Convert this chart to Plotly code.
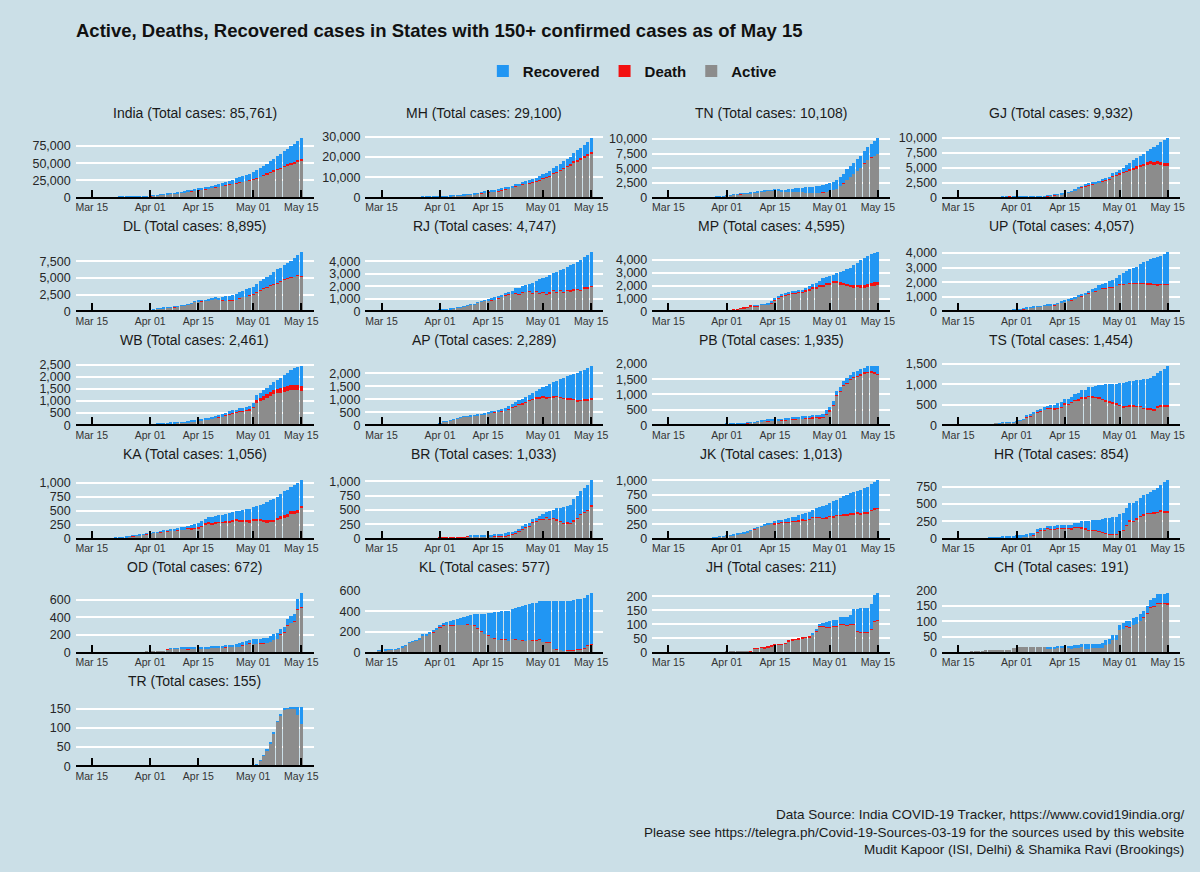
import plotly.graph_objects as go
import pandas as pd

# ---------------- data ----------------
DATES = pd.date_range("2020-03-14", "2020-05-15", freq="D")   # 63 daily categories
TICK_DATES = ["2020-03-15", "2020-04-01", "2020-04-15", "2020-05-01", "2020-05-15"]
TICK_TEXT = ["Mar 15", "Apr 01", "Apr 15", "May 01", "May 15"]

STATES = ["India", "MH", "TN", "GJ", "DL", "RJ", "MP", "UP", "WB", "AP", "PB",
          "TS", "KA", "BR", "JK", "HR", "OD", "KL", "JH", "CH", "TR"]

# cumulative confirmed (C), recovered (R), deceased (D): Mar 14 .. May 15
IN_C = [102,112,126,146,171,194,249,332,396,499,536,657,727,887,987,1071,1251,1635] + \
       [2059,2545,3105,3666,4289,4778,5351,5916,6725,7600,8446,9205,10453,11487,12322,13430,14352,15722,17615,18539,
        20080,21370,23077,24530,26283,27890,29451,31324,33062,34863] + \
       [37257,39699,42505,46437,49400,53005,56351,59695,62808,67161,70768,74292,78055,81997,85761]
IN_R = [10,13,14,14,15,20,23,23,27,40,43,43,45,73,84,95,102,148] + \
       [169,191,229,275,328,375,421,506,620,774,969,1080,1191,1359,1510,1767,2015,2463,2854,3273,
        3975,4370,4814,5210,5939,6523,7137,7796,8437,9068] + \
       [10007,10887,11762,12847,14183,15331,16776,17887,19301,20969,22549,24420,26400,27969,30258]
IN_D = [2,2,2,3,3,4,4,4,7,10,10,12,16,20,24,27,32,41] + \
       [58,72,86,100,118,137,162,181,214,243,273,326,359,393,420,448,486,521,560,603,
        652,686,723,780,826,881,938,1008,1079,1154] + \
       [1223,1323,1391,1566,1694,1783,1886,1981,2109,2212,2294,2415,2551,2649,2752]

MH_C = [19,32,39,41,45,48,52,64,74,97,107,122,130,153,186,203,220,302] + \
       [335,423,490,635,748,868,1018,1135,1364,1574,1761,1982,2334,2687,2916,3202,3323,3648,4203,4666,
        5218,5652,6430,6817,7628,8068,8590,9318,9915,10498] + \
       [11506,12296,12974,14541,15525,16758,17974,19063,20228,22171,23401,24427,25922,27524,29100]
MH_R = [0,0,0,0,0,0,0,0,0,0,0,0,1,14,25,35,39,39] + \
       [39,42,42,42,56,56,66,117,125,188,188,208,229,259,295,295,331,365,507,572,
        722,789,840,957,1076,1188,1388,1593,1593,1773] + \
       [1879,2115,2115,2465,2819,3094,3301,3470,3800,4199,4786,5125,5547,6059,6564]
MH_D = [0,0,0,1,1,1,1,2,2,3,3,3,4,5,6,7,8,10] + \
       [13,19,24,32,45,53,64,72,97,110,127,149,160,178,187,194,201,211,223,232,
        251,269,283,301,323,342,369,400,432,459] + \
       [485,521,548,583,617,651,694,731,779,832,868,921,975,1019,1068]

TN_C = [1,1,1,1,2,3,3,3,7,9,15,18,26,29,40,50,67,124] + \
       [234,309,411,485,571,621,690,738,834,911,969,1075,1173,1204,1242,1267,1323,1372,1477,1520,
        1596,1629,1683,1755,1821,1885,1937,2058,2162,2323] + \
       [2526,2757,3023,3550,4058,4829,5409,6009,6535,7204,8002,8718,9227,9674,10108]
TN_R = [0,0,0,0,0,0,0,0,1,1,1,1,1,1,1,2,2,4] + \
       [6,6,6,6,8,8,19,21,21,44,50,50,58,81,118,180,283,365,411,457,
        635,662,752,866,960,1020,1101,1210,1258,1258] + \
       [1379,1408,1485,1547,1605,1716,1824,1879,1959,2051,2134,2240,2357,2476,2599]
TN_D = [0,0,0,0,0,0,0,0,0,0,0,1,1,1,1,1,1,1] + \
       [2,3,5,6,6,7,7,8,8,10,11,11,12,12,14,15,15,15,15,17,
        18,18,20,21,23,24,25,27,27,27] + \
       [28,29,30,31,32,35,35,40,44,47,53,56,64,66,71]

GJ_C = [0,0,0,0,0,2,5,7,14,29,33,38,43,45,53,63,69,73] + \
       [82,87,95,105,128,144,165,179,186,241,378,432,516,572,695,871,1021,1272,1604,1851,
        2066,2272,2407,2624,2815,3071,3301,3548,4082,4395] + \
       [4721,5054,5428,5804,6245,6625,7012,7403,7796,8195,8541,8904,9268,9592,9932]
GJ_R = [0,0,0,0,0,0,0,0,0,0,0,0,0,0,1,1,1,1] + \
       [5,8,8,10,12,12,25,26,26,26,33,44,54,56,64,64,74,88,95,106,
        131,179,179,258,258,282,313,394,434,613] + \
       [613,735,896,1042,1219,1381,1500,1709,1872,2091,2545,2780,3246,3753,4035]
GJ_D = [0,0,0,0,0,0,0,0,1,1,1,2,3,3,4,5,6,6] + \
       [6,7,9,10,11,12,13,16,16,19,22,22,25,26,30,36,38,41,58,67,
        71,90,103,112,127,133,151,162,181,197] + \
       [214,236,262,290,319,368,396,425,449,472,493,513,537,566,606]

DL_C = [7,7,7,8,10,12,17,26,29,30,30,31,36,39,39,49,72,120] + \
       [152,219,386,445,503,523,576,669,720,898,903,1069,1154,1510,1561,1578,1640,1707,1893,2003,
        2081,2156,2248,2376,2514,2625,2918,3108,3314,3515] + \
       [3738,4122,4549,4898,5104,5532,5980,6318,6542,6923,7233,7639,7998,8470,8895]
DL_R = [0,2,2,2,2,2,3,5,6,6,6,6,6,6,6,6,6,6] + \
       [6,6,8,15,16,16,19,21,25,25,25,27,27,30,30,30,38,42,72,72,
        290,431,611,724,808,857,877,877,1078,1094] + \
       [1167,1256,1362,1431,1468,1542,1931,2020,2020,2129,2187,2512,2758,3045,3518]
DL_D = [1,1,1,1,1,1,1,1,1,1,1,1,1,1,2,2,2,2] + \
       [2,4,5,6,7,9,9,11,12,13,14,19,24,28,30,32,38,42,43,45,
        47,48,50,53,54,56,56,59,59,59] + \
       [61,64,64,64,64,65,66,66,68,73,73,86,86,115,123]

RJ_C = [2,4,4,4,7,7,17,18,25,32,33,36,38,43,54,60,79,93] + \
       [120,133,167,200,253,288,325,383,463,561,579,700,804,873,1005,1076,1131,1229,1351,1478,
        1576,1659,1868,1888,2034,2083,2185,2262,2438,2584] + \
       [2666,2772,2886,3061,3158,3317,3427,3579,3708,3814,3988,4126,4328,4534,4747]
RJ_R = [0,1,1,1,3,3,3,3,3,3,3,3,3,3,3,3,3,3] + \
       [3,3,21,21,21,21,21,21,21,21,25,25,25,25,147,164,183,183,183,183,
        205,230,419,493,493,493,552,814,814,1116] + \
       [1116,1356,1356,1356,1596,1596,1855,1855,2011,2011,2176,2389,2389,2580,2676]
RJ_D = [0,0,0,0,0,0,0,0,0,0,0,0,0,0,0,0,0,0] + \
       [0,0,1,1,1,1,3,3,3,3,3,3,3,3,11,14,16,17,19,25,
        25,25,27,31,33,33,41,46,51,58] + \
       [61,65,71,77,82,89,92,97,103,107,107,113,117,121,125]

MP_C = [0,0,0,0,0,0,4,4,6,6,7,14,15,20,30,33,47,66] + \
       [98,99,104,165,193,256,290,411,435,435,532,562,604,730,987,1120,1310,1407,1485,1552,
        1587,1695,1699,1846,1945,2096,2168,2387,2561,2660] + \
       [2719,2846,2942,3049,3138,3252,3341,3614,3785,3986,4173,4295,4426,4525,4595]
MP_R = [0,0,0,0,0,0,0,0,0,0,0,0,0,0,0,0,0,0] + \
       [0,0,0,0,0,0,0,0,7,7,7,7,44,53,64,64,69,127,127,127,
        131,148,150,203,210,210,302,313,482,482] + \
       [482,482,590,798,950,1100,1280,1550,1700,1950,2130,2200,2250,2280,2300]
MP_D = [0,0,0,0,0,0,0,0,0,0,0,1,1,1,1,2,3,4] + \
       [6,6,6,9,12,16,21,28,33,33,36,40,43,50,53,55,63,70,72,76,
        80,80,83,88,99,106,113,120,130,137] + \
       [145,151,156,165,165,185,193,215,221,225,232,232,237,243,248]

UP_C = [12,13,13,15,16,18,23,27,27,33,35,38,41,42,65,72,82,103] + \
       [113,116,173,227,276,308,332,361,410,431,452,483,558,660,735,805,846,974,1084,1176,
        1294,1412,1510,1604,1778,1868,1955,2053,2134,2281] + \
       [2487,2626,2766,2880,2998,3071,3214,3373,3467,3573,3664,3729,3824,3902,4057]
UP_R = [0,4,4,5,5,6,9,9,10,11,11,11,11,11,11,11,14,14] + \
       [17,17,17,17,17,17,21,21,21,31,45,49,49,49,50,68,74,80,90,140,
        140,164,164,206,289,289,373,409,479,510] + \
       [640,760,855,940,1040,1130,1250,1420,1530,1640,1760,1850,1930,2000,2160]
UP_D = [0,0,0,0,0,0,0,0,0,0,0,0,0,0,0,0,0,0] + \
       [2,2,2,2,3,3,3,4,4,4,4,5,5,5,11,13,14,14,14,18,
        20,21,24,25,27,29,31,31,34,39] + \
       [41,43,45,50,56,60,62,66,74,77,80,82,85,88,95]

WB_C = [0,0,0,1,1,2,3,4,7,7,9,9,10,10,15,18,22,37] + \
       [53,53,63,69,80,91,99,103,116,116,134,152,190,213,231,255,287,310,339,392,
        423,456,514,571,611,649,697,725,758,795] + \
       [922,1259,1344,1456,1548,1678,1786,1880,1939,2063,2173,2290,2377,2420,2461]
WB_R = [0,0,0,0,0,0,0,0,0,0,0,0,0,0,0,0,0,0] + \
       [3,3,3,3,3,10,10,13,16,16,19,29,36,37,42,51,55,62,66,73,
        79,79,103,103,105,109,109,119,124,139] + \
       [151,218,218,265,265,293,339,364,416,499,556,633,693,767,829]
WB_D = [0,0,0,0,0,0,0,0,0,1,1,1,1,1,1,2,3,3] + \
       [3,3,3,3,5,5,5,5,5,5,5,7,7,7,7,10,10,10,12,12,
        12,15,15,18,18,18,18,20,22,33] + \
       [33,133,140,144,151,160,171,185,190,198,200,207,207,210,215]

AP_C = [1,1,1,1,1,2,3,3,5,7,8,10,11,13,19,21,23,44] + \
       [87,132,161,190,226,266,303,329,348,363,381,405,420,439,483,525,534,572,603,647,
        722,813,895,955,1016,1097,1177,1259,1332,1403] + \
       [1463,1525,1583,1650,1717,1777,1833,1887,1930,1980,2018,2090,2137,2205,2289]
AP_R = [0,0,0,0,0,0,0,0,0,0,0,1,1,1,1,1,1,1] + \
       [1,1,1,1,1,1,1,1,6,6,9,9,12,14,16,16,20,35,42,65,
        92,120,141,145,171,191,201,231,258,321] + \
       [341,441,488,524,589,674,780,842,888,958,1056,1107,1142,1192,1252]
AP_D = [0,0,0,0,0,0,0,0,0,0,0,0,0,0,0,0,0,0] + \
       [1,1,2,3,3,3,3,4,4,6,6,6,7,9,9,14,14,14,15,17,
        20,22,24,27,27,29,31,31,31,31] + \
       [33,34,36,36,36,36,38,41,41,44,45,46,46,48,50]

PB_C = [0,1,1,1,1,1,1,1,3,21,21,29,33,33,38,38,38,41] + \
       [46,46,47,48,57,65,79,99,106,132,151,167,176,184,186,187,202,211,219,244,
        251,277,283,298,313,322,330,342,357,480] + \
       [585,772,1102,1232,1451,1526,1644,1731,1762,1823,1877,1914,1924,1932,1935]
PB_R = [0,0,0,0,0,0,0,0,0,0,0,0,0,1,1,1,1,1] + \
       [1,1,1,1,4,4,4,4,4,14,14,14,25,27,27,27,29,30,31,38,
        40,42,49,52,71,71,72,90,98,104] + \
       [104,112,116,117,128,135,139,147,149,153,156,168,171,202,260]
PB_D = [0,0,0,0,0,1,1,1,1,1,1,1,1,1,1,1,1,3] + \
       [4,4,5,5,6,6,7,8,8,11,11,12,12,13,13,13,14,14,15,16,
        16,16,17,17,17,18,19,19,20,20] + \
       [20,21,21,21,23,25,27,28,31,31,32,32,32,32,32]

TS_C = [1,3,4,5,6,13,16,21,22,32,35,39,44,45,59,67,70,77] + \
       [97,127,154,229,269,321,364,404,442,473,487,504,531,562,644,650,700,766,791,858,
        872,928,943,970,984,990,1001,1004,1009,1016] + \
       [1039,1044,1061,1082,1085,1096,1107,1122,1132,1163,1196,1275,1326,1367,1454]
TS_R = [0,0,0,0,0,0,0,0,0,0,0,0,0,1,1,1,1,1] + \
       [1,14,14,17,32,32,35,45,45,45,68,96,103,110,110,120,128,150,160,170,
        190,210,240,270,300,340,380,410,442,474] + \
       [533,568,582,585,585,618,628,693,712,751,794,800,822,868,959]
TS_D = [0,0,0,0,0,0,0,0,0,0,0,0,0,0,1,1,1,1] + \
       [3,7,9,11,11,11,11,11,12,12,12,14,16,18,18,18,18,18,18,21,
        23,23,25,25,26,26,26,26,26,26] + \
       [28,29,29,29,29,29,29,29,29,30,30,30,32,34,34]

KA_C = [6,7,10,11,11,14,15,20,26,33,37,41,55,64,76,81,88,101] + \
       [110,124,128,144,151,163,175,181,197,207,215,232,247,258,279,315,359,384,390,408,
        418,427,445,463,474,500,503,512,523,535] + \
       [565,589,601,614,651,692,705,753,794,848,862,925,959,987,1056]
KA_R = [0,0,0,0,0,0,1,1,2,2,3,3,3,3,5,5,5,5] + \
       [9,9,9,11,12,13,20,25,30,30,34,42,59,65,71,80,85,92,111,112,
        112,119,129,141,146,152,163,179,184,207] + \
       [216,235,250,271,324,349,366,376,386,422,426,432,460,470,480]
KA_D = [1,1,1,1,1,1,1,1,1,1,2,2,3,3,3,3,3,3] + \
       [3,3,3,4,4,4,5,5,5,6,6,6,6,6,10,12,13,13,14,16,
        16,17,17,17,18,19,19,20,21,21] + \
       [22,22,25,25,26,27,29,30,30,31,31,31,33,35,36]

BR_C = [0,0,0,0,0,0,0,1,2,2,3,4,6,7,9,11,15,21] + \
       [23,29,30,32,32,32,36,38,51,58,60,64,65,66,70,74,80,83,85,93,
        113,126,143,176,223,251,277,346,366,403] + \
       [426,466,481,503,529,542,550,571,584,696,747,831,879,938,1033]
BR_R = [0,0,0,0,0,0,0,0,0,0,0,0,0,0,0,0,0,0] + \
       [0,0,0,0,0,0,0,0,0,13,15,15,15,15,29,29,37,37,42,42,
        42,42,46,46,46,48,53,53,56,64] + \
       [78,84,136,146,192,235,271,284,310,373,383,402,412,432,450]
BR_D = [0,0,0,0,0,0,0,0,1,1,1,1,1,1,1,1,1,1] + \
       [1,1,1,1,1,1,1,1,1,1,1,1,1,1,1,1,1,1,2,2,
        2,2,2,2,2,2,2,2,2,2] + \
       [2,2,3,3,4,4,5,5,6,6,6,6,6,7,7]

JK_C = [0,2,2,3,3,4,4,4,4,4,7,11,13,18,33,38,48,55] + \
       [62,70,75,92,106,109,125,158,184,207,224,245,270,278,300,314,328,341,350,368,
        380,407,427,434,454,494,523,546,565,581] + \
       [614,639,666,701,726,741,775,793,823,836,861,879,934,971,1013]
JK_R = [0,0,0,0,0,0,0,0,1,1,1,1,1,1,1,1,2,2] + \
       [2,2,3,3,4,4,4,4,6,6,6,6,11,11,36,38,42,53,56,56,
        72,92,92,108,116,116,152,173,203,216] + \
       [216,254,254,286,305,323,336,360,368,403,403,427,436,446,480]
JK_D = [0,0,0,0,0,0,0,0,0,0,0,1,1,1,1,2,2,2] + \
       [2,2,2,2,2,2,3,4,4,4,4,4,4,4,4,4,5,5,5,5,
        5,5,6,6,6,6,6,7,7,7] + \
       [8,8,8,8,8,8,9,9,9,9,10,10,10,11,11]

HR_C = [3,5,6,6,6,6,6,6,6,6,28,28,30,32,33,35,36,43] + \
       [48,56,61,65,82,90,135,155,161,180,185,185,198,199,205,205,205,223,233,251,
        254,254,264,270,275,289,296,296,311,313] + \
       [360,376,442,517,517,548,594,625,647,675,703,730,780,818,854]
HR_R = [0,0,0,0,0,0,0,0,0,0,11,11,11,14,14,17,17,17] + \
       [21,24,24,24,24,29,30,30,30,30,37,37,41,43,43,46,56,57,63,87,
        105,123,134,147,166,189,207,221,235,242] + \
       [245,245,246,250,254,255,263,269,270,300,315,340,370,420,460]
HR_D = [0,0,0,0,0,0,0,0,0,0,0,0,0,0,0,0,0,0] + \
       [1,1,1,1,1,1,1,1,2,2,2,2,3,3,3,3,3,3,3,3,
        3,3,3,3,3,3,3,3,3,3] + \
       [4,4,4,5,6,6,6,7,9,9,10,11,11,11,11]

OD_C = [0,0,0,0,1,2,2,2,2,2,2,2,2,3,3,3,3,4] + \
       [5,5,20,20,21,32,42,42,44,50,50,50,54,60,60,60,60,61,68,72,
        74,79,83,89,90,94,103,118,125,143] + \
       [149,154,157,162,169,185,205,219,271,294,377,414,437,611,672]
OD_R = [0,0,0,0,0,0,0,0,0,0,0,0,0,0,0,0,0,0] + \
       [0,0,0,0,0,0,2,2,2,2,11,12,12,18,18,18,18,18,18,19,
        24,24,24,25,29,33,37,37,39,39] + \
       [48,55,55,60,61,62,63,63,64,65,70,77,80,120,160]
OD_D = [0,0,0,0,0,0,0,0,0,0,0,0,0,0,0,0,0,0] + \
       [0,0,0,0,0,1,1,1,1,1,1,1,1,1,1,1,1,1,1,1,
        1,1,1,1,1,1,1,1,1,1] + \
       [1,1,1,1,1,1,1,2,2,2,2,2,3,3,3]

KL_C = [19,22,24,26,27,28,40,52,67,95,109,118,137,176,182,202,215,241] + \
       [265,286,295,306,314,327,336,345,357,364,373,375,378,379,387,388,395,396,399,402,
        408,426,437,447,450,458,468,481,485,497] + \
       [497,499,499,500,502,503,503,505,505,512,519,524,534,560,577]
KL_R = [3,3,3,3,3,3,3,3,3,4,4,4,10,11,16,16,16,19] + \
       [19,21,26,41,49,57,65,75,84,96,110,140,169,198,218,245,255,270,270,270,
        292,292,310,323,331,342,342,359,365,369] + \
       [392,401,401,462,469,474,484,484,485,489,489,490,491,491,497]
KL_D = [0,0,0,0,0,0,0,0,0,0,0,0,0,0,1,1,2,2] + \
       [2,2,2,2,2,2,2,2,2,2,3,3,3,3,3,3,3,3,3,3,
        3,3,3,3,3,3,3,3,4,4] + \
       [4,4,4,4,4,4,4,4,4,4,4,4,4,4,4]

JH_C = [0,0,0,0,0,0,0,0,0,0,0,0,0,0,0,0,0,1] + \
       [2,2,3,3,3,3,4,4,13,13,17,17,19,24,27,28,29,33,41,45,
        46,49,53,54,56,67,82,103,105,107] + \
       [113,115,115,125,125,127,132,156,156,157,159,160,173,203,211]
JH_R = [0,0,0,0,0,0,0,0,0,0,0,0,0,0,0,0,0,0] + \
       [0,0,0,0,0,0,0,0,0,0,0,0,0,0,0,0,0,0,0,0,
        0,0,0,0,0,2,5,8,11,17] + \
       [21,21,21,24,24,29,29,55,80,85,87,88,90,90,94]
JH_D = [0,0,0,0,0,0,0,0,0,0,0,0,0,0,0,0,0,0] + \
       [0,0,0,0,0,0,0,1,1,1,1,2,2,2,2,2,2,2,2,2,
        2,3,3,3,3,3,3,3,3,3] + \
       [3,3,3,3,3,3,3,3,3,3,3,3,3,3,3]

CH_C = [0,0,0,0,0,1,1,5,5,7,7,7,7,8,8,8,8,15] + \
       [16,18,18,18,18,18,18,18,18,19,19,19,21,21,21,21,21,23,23,26,
        26,26,27,27,28,30,40,45,56,56] + \
       [88,94,102,102,111,114,124,135,150,169,174,187,187,189,191]
CH_R = [0,0,0,0,0,0,0,0,0,0,0,0,0,0,0,0,0,0] + \
       [0,0,0,0,0,0,0,0,0,7,7,7,7,7,7,7,9,9,9,9,
        14,14,14,14,15,15,17,17,17,17] + \
       [17,17,17,21,21,21,21,21,24,24,25,28,28,29,33]
CH_D = [0,0,0,0,0,0,0,0,0,0,0,0,0,0,0,0,0,0] + \
       [0,0,0,0,0,0,0,0,0,0,0,0,0,0,0,0,0,0,0,0,
        0,0,0,0,0,0,0,0,0,0] + \
       [0,0,1,1,1,1,1,1,2,2,2,2,3,3,3]

TR_C = [0,0,0,0,0,0,0,0,0,0,0,0,0,0,0,0,0,0] + \
       [0,0,0,0,1,1,1,1,1,1,1,1,1,1,2,2,2,2,2,2,
        2,2,2,2,2,2,2,2,2,2] + \
       [2,4,16,29,43,62,88,118,135,150,152,153,154,155,155]
TR_R = [0,0,0,0,0,0,0,0,0,0,0,0,0,0,0,0,0,0] + \
       [0,0,0,0,0,0,0,0,0,0,0,0,0,0,1,1,1,1,2,2,
        2,2,2,2,2,2,2,2,2,2] + \
       [2,2,2,2,2,2,2,2,2,2,2,2,2,20,45]
TR_D = [0,0,0,0,0,0,0,0,0,0,0,0,0,0,0,0,0,0] + \
       [0,0,0,0,0,0,0,0,0,0,0,0,0,0,0,0,0,0,0,0,
        0,0,0,0,0,0,0,0,0,0] + \
       [0,0,0,0,0,0,0,0,0,0,0,0,0,0,0]

# y tick values per panel
IN_T = [0, 25000, 50000, 75000]
MH_T = [0, 10000, 20000, 30000]
TN_T = [0, 2500, 5000, 7500, 10000]
GJ_T = [0, 2500, 5000, 7500, 10000]
DL_T = [0, 2500, 5000, 7500]
RJ_T = [0, 1000, 2000, 3000, 4000]
MP_T = [0, 1000, 2000, 3000, 4000]
UP_T = [0, 1000, 2000, 3000, 4000]
WB_T = [0, 500, 1000, 1500, 2000, 2500]
AP_T = [0, 500, 1000, 1500, 2000]
PB_T = [0, 500, 1000, 1500, 2000]
TS_T = [0, 500, 1000, 1500]
KA_T = [0, 250, 500, 750, 1000]
BR_T = [0, 250, 500, 750, 1000]
JK_T = [0, 250, 500, 750, 1000]
HR_T = [0, 250, 500, 750]
OD_T = [0, 200, 400, 600]
KL_T = [0, 200, 400, 600]
JH_T = [0, 50, 100, 150, 200]
CH_T = [0, 50, 100, 150, 200]
TR_T = [0, 50, 100, 150]

DATA = {
    "India": (IN_C, IN_R, IN_D, IN_T), "MH": (MH_C, MH_R, MH_D, MH_T),
    "TN": (TN_C, TN_R, TN_D, TN_T), "GJ": (GJ_C, GJ_R, GJ_D, GJ_T),
    "DL": (DL_C, DL_R, DL_D, DL_T), "RJ": (RJ_C, RJ_R, RJ_D, RJ_T),
    "MP": (MP_C, MP_R, MP_D, MP_T), "UP": (UP_C, UP_R, UP_D, UP_T),
    "WB": (WB_C, WB_R, WB_D, WB_T), "AP": (AP_C, AP_R, AP_D, AP_T),
    "PB": (PB_C, PB_R, PB_D, PB_T), "TS": (TS_C, TS_R, TS_D, TS_T),
    "KA": (KA_C, KA_R, KA_D, KA_T), "BR": (BR_C, BR_R, BR_D, BR_T),
    "JK": (JK_C, JK_R, JK_D, JK_T), "HR": (HR_C, HR_R, HR_D, HR_T),
    "OD": (OD_C, OD_R, OD_D, OD_T), "KL": (KL_C, KL_R, KL_D, KL_T),
    "JH": (JH_C, JH_R, JH_D, JH_T), "CH": (CH_C, CH_R, CH_D, CH_T),
    "TR": (TR_C, TR_R, TR_D, TR_T),
}

# ---------------- style / layout ----------------
BG = "#CBDFE7"
COL_ACTIVE = "#8C8C8C"
COL_DEATH = "#F21010"
COL_REC = "#2196F3"
FONT = "Liberation Sans, Arial, sans-serif"
W, H = 1200, 872
COL_X = [76, 367, 655, 946]
PW = 239
ROW_TOP, ROW_STEP, PH = 131, 115, 66
XRANGE = ["2020-03-10 07:12:00", "2020-05-18 14:24:00"]

fig = go.Figure()
annotations = []

for k, st in enumerate(STATES):
    C, R, D, ticks = DATA[st]
    assert len(C) == len(R) == len(D) == len(DATES), st
    active = [c - r - d for c, r, d in zip(C, R, D)]
    row, col = divmod(k, 4)
    sfx = "" if k == 0 else str(k + 1)
    left = COL_X[col]
    top = ROW_TOP + row * ROW_STEP
    bot = top + PH
    x0, x1 = left / W, (left + PW) / W
    y0, y1 = 1 - bot / H, 1 - top / H
    ymax = max(C)
    zero_pos = y0 + (0.05 / 1.10) * (y1 - y0)

    for name, vals, color in [("Active", active, COL_ACTIVE),
                              ("Death", D, COL_DEATH),
                              ("Recovered", R, COL_REC)]:
        fig.add_trace(go.Bar(
            x=DATES, y=vals, name="<b>%s</b>" % name,
            marker=dict(color=color, line=dict(width=0)),
            xaxis="x" + sfx, yaxis="y" + sfx,
            showlegend=(k == 0), hoverinfo="x+y+name",
        ))

    fig.layout["xaxis" + sfx] = dict(
        domain=[x0, x1], anchor="free", position=zero_pos, type="date",
        range=XRANGE, tickvals=TICK_DATES, ticktext=TICK_TEXT,
        tickfont=dict(size=10.5, color="#333333", family=FONT),
        showgrid=False, zeroline=False, showline=True, linecolor="black",
        linewidth=2, ticks="inside", ticklen=7, tickwidth=2, tickcolor="black",
    )
    fig.layout["yaxis" + sfx] = dict(
        domain=[y0, y1], anchor="free", position=x0,
        range=[-0.05 * ymax, 1.05 * ymax], tickvals=ticks, tickformat=",",
        tickfont=dict(size=12.5, color="#262626", family=FONT),
        showgrid=True, gridcolor="white", gridwidth=2, zeroline=False,
        showline=False, ticks="", ticklabelstandoff=5,
    )
    annotations.append(dict(
        text="%s (Total cases: %s)" % (st, format(C[-1], ",")),
        x=(left + PW / 2) / W, y=1 - (top - 23) / H, xref="paper", yref="paper",
        xanchor="center", yanchor="middle", showarrow=False,
        font=dict(size=14, color="#1a1a1a", family=FONT),
    ))

annotations.append(dict(
    text="<b>Active, Deaths, Recovered cases in States with 150+ confirmed cases as of May 15</b>",
    x=74 / W, y=1 - 25 / H, xref="paper", yref="paper", xanchor="left", yanchor="middle",
    showarrow=False, font=dict(size=18.5, color="#111111", family=FONT),
))
annotations.append(dict(
    text="Data Source: India COVID-19 Tracker, https://www.covid19india.org/<br>"
         "Please see https://telegra.ph/Covid-19-Sources-03-19 for the sources used by this website<br>"
         "Mudit Kapoor (ISI, Delhi) &amp; Shamika Ravi (Brookings)",
    x=1192 / W, y=1 - 836 / H, xref="paper", yref="paper", xanchor="right", yanchor="middle",
    align="right", showarrow=False, font=dict(size=13.5, color="#1a1a1a", family=FONT),
))

fig.update_layout(
    width=W, height=H, margin=dict(l=0, r=0, t=0, b=0),
    paper_bgcolor=BG, plot_bgcolor=BG,
    barmode="stack", bargap=0.1,
    font=dict(family=FONT, color="#1a1a1a"),
    legend=dict(orientation="h", x=635 / W, xanchor="center", y=1 - 66 / H, yanchor="middle",
                traceorder="reversed", font=dict(size=15, color="#111111", family=FONT),
                bgcolor="rgba(0,0,0,0)"),
    annotations=annotations,
)

fig.write_html("out.html")
